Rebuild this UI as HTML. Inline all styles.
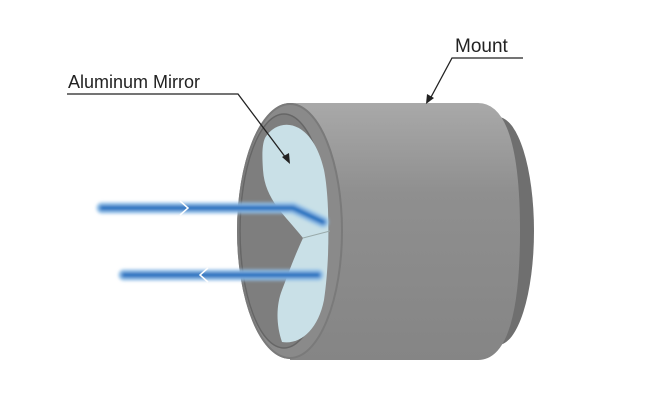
<!DOCTYPE html>
<html><head><meta charset="utf-8"><style>
html,body{margin:0;padding:0;background:#fff;}
svg{display:block;}
text{font-family:"Liberation Sans",sans-serif;fill:#222;}
</style></head><body>
<svg width="650" height="400" viewBox="0 0 650 400" xmlns="http://www.w3.org/2000/svg">
<defs>
<linearGradient id="body" x1="0" y1="0" x2="0" y2="1">
<stop offset="0" stop-color="#a9a9a9"/><stop offset="0.35" stop-color="#8f8f8f"/><stop offset="1" stop-color="#858585"/>
</linearGradient>
<filter id="bl" x="-10%" y="-200%" width="120%" height="500%"><feGaussianBlur stdDeviation="1.5"/></filter>
</defs>
<ellipse cx="498" cy="231" rx="36" ry="114" fill="#6f6f6f"/>
<path d="M290,103 L478,103 Q520,103 520,231 Q520,360 478,360 L290,360 Z" fill="url(#body)"/>
<ellipse cx="290" cy="231" rx="53" ry="128" fill="#8a8a8a"/>
<ellipse cx="290" cy="231" rx="52" ry="127" fill="none" stroke="#7a7a7a" stroke-width="2"/>
<ellipse cx="284" cy="231" rx="44" ry="117" fill="#7e7e7e" stroke="#666" stroke-width="1.5"/>
<path d="M265,138 C278,116 312,118 324,170 C330,200 330,260 324,300 C318,330 300,345 282,342 C276,325 276,305 282,290 C288,275 292,262 303,238 C285,215 265,200 263,170 C262,155 262,145 265,138 Z" fill="#c9e0e7"/>
<line x1="303" y1="238" x2="330" y2="231" stroke="#9aa" stroke-width="1"/>
<g filter="url(#bl)">
<path d="M102,208 L293,208 L323,222" fill="none" stroke="#8fbde6" stroke-width="11" stroke-linecap="round" stroke-linejoin="round"/>
<path d="M102,208 L293,208 L323,222" fill="none" stroke="#1f6fbf" stroke-width="5" stroke-linecap="round" stroke-linejoin="round"/>
<path d="M124,275 L318,275" fill="none" stroke="#8fbde6" stroke-width="11" stroke-linecap="round"/>
<path d="M124,275 L318,275" fill="none" stroke="#1f6fbf" stroke-width="5" stroke-linecap="round"/>
</g>
<path d="M180,201 L188,208 L180,215" fill="none" stroke="#fff" stroke-width="1.5"/>
<path d="M208,268 L200,275 L208,282" fill="none" stroke="#fff" stroke-width="1.5"/>
<text x="455" y="52" font-size="19">Mount</text>
<polyline points="523,58 452,58 430,99" fill="none" stroke="#222" stroke-width="1.3"/>
<path d="M426,104 L427,94 L434,98 Z" fill="#222"/>
<text x="68" y="88" font-size="18">Aluminum Mirror</text>
<polyline points="67,94 238,94 286,158" fill="none" stroke="#222" stroke-width="1.3"/>
<path d="M290,164 L282,157 L289,153 Z" fill="#222"/>
</svg>
</body></html>
